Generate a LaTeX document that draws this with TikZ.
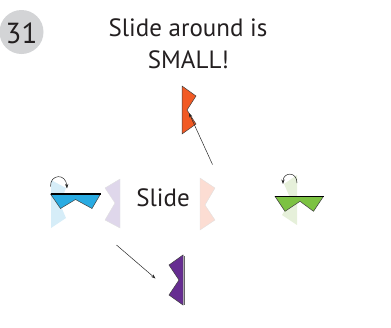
\documentclass[tikz,border=0pt]{standalone}
\usepackage{fontspec}
\setmainfont{PT Sans}
\usetikzlibrary{arrows.meta}
\definecolor{orangeF}{HTML}{F15A24}
\definecolor{blueF}{HTML}{29ABE2}
\definecolor{greenF}{HTML}{7CC242}
\definecolor{purpleF}{HTML}{662D91}
\definecolor{paleBlue}{HTML}{D6EDF8}
\definecolor{paleLav}{HTML}{DFD7EB}
\definecolor{palePink}{HTML}{FCDDD3}
\definecolor{paleGreen}{HTML}{E6F0DA}
\definecolor{circGray}{HTML}{D3D4D6}
\definecolor{txt}{HTML}{231F20}
\tikzset{
  bigtext/.style={font=\fontsize{25}{30}\selectfont, text=txt, inner sep=0pt, anchor=base},
  flag/.style={draw=black!75, line width=0.5pt, line join=miter},
  pale/.style={draw=black!12, line width=0.4pt},
  ptr/.style={draw=black!85, line width=0.5pt, -{Stealth[length=4.5pt,width=3.2pt]}},
  topedge/.style={draw=black, line width=1.3pt},
}
\begin{document}
\begin{tikzpicture}[x=1pt,y=-1pt]
\useasboundingbox (0,0) rectangle (391,327);
% badge
\fill[circGray] (21.5,32) circle (22);
\node[bigtext, font=\fontsize{29}{34}\selectfont] (num) at (21.5,43) {31};
% title
\node[bigtext] (t1) at (188,36.7) {Slide around is};
\node[bigtext] (t2) at (188.5,68) {SMALL!};
\node[bigtext] (slide) at (163,206.7) {Slide};
% pale shapes
\fill[paleBlue] (51,180) -- (66,188) -- (60,204) -- (66,218) -- (51,228) -- cycle;
\fill[paleLav, pale] (120,179) -- (105,188) -- (115,203) -- (105,220) -- (120,228) -- cycle;
\fill[palePink, pale] (200,178) -- (215,188) -- (205,205) -- (215,220) -- (200,230) -- cycle;
\fill[paleGreen] (297,175) -- (284,184) -- (291,200) -- (282,215) -- (297,225) -- cycle;
% blue
\filldraw[fill=blueF, flag] (50.5,194) -- (100.5,194) -- (92,208.5) -- (75.5,199.5) -- (60.5,208.5) -- cycle;
\draw[topedge] (50.5,194) -- (100.5,194);
% green
\filldraw[fill=greenF, flag] (275,196.3) -- (323.5,196.3) -- (313.5,211.3) -- (300,201.3) -- (285,211.3) -- cycle;
\draw[topedge] (275,196.3) -- (323.5,196.3);
% orange
\filldraw[fill=orangeF, flag] (182,86) -- (196,96) -- (187,110) -- (196,124) -- (182,134) -- cycle;
% purple
\filldraw[fill=purpleF, flag] (183,255) -- (169,265) -- (179,280) -- (169,295) -- (183,305) -- cycle;
\draw[black!60, line width=0.8pt] (184,256) -- (184,305);
% curved arrows
\coordinate (ba1) at (50.5,186.5);
\coordinate (ba2) at (67,188.5);
\draw[ptr] (ba1) .. controls (50,174) and (66,173) .. (ba2);
\coordinate (ga1) at (297,183);
\coordinate (ga2) at (283,184);
\draw[ptr] (ga1) .. controls (297,171) and (283,172) .. (ga2);
% straight arrows
\coordinate (oa1) at (212.5,164.5);
\coordinate (oa2) at (189,113);
\draw[ptr] (oa1) -- (oa2);
\coordinate (pa1) at (116.5,245);
\coordinate (pa2) at (155.5,278.5);
\draw[ptr] (pa1) -- (pa2);
\end{tikzpicture}
\end{document}
